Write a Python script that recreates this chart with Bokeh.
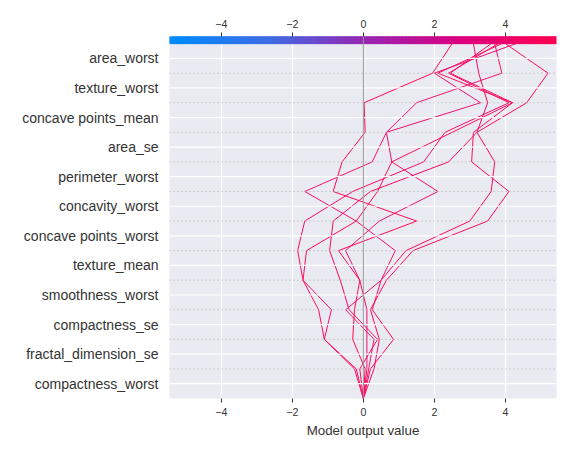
import numpy as np
from bokeh.plotting import figure
from bokeh.models import Span, FixedTicker, LinearAxis, Range1d
from bokeh.embed import file_html
from bokeh.resources import INLINE

features = ["compactness_worst", "fractal_dimension_se", "compactness_se", "smoothness_worst",
            "texture_mean", "concave points_worst", "concavity_worst", "perimeter_worst",
            "area_se", "concave points_mean", "texture_worst", "area_worst"]  # bottom to top
base_value = 0.0
# cumulative model output at boundaries y=-0.5 ... 11.5 (bottom to top)
line1 = [0, 0.2, 0.85, 0.25, 0.5, 1.2, 3.0, 3.6, 3.7, 3.2, 4.6, 5.2, 4.0]
line2 = [0, 0.3, 0.45, 0.2, 0.65, 1.4, 3.5, 4.1, 3.05, 3.1, 4.2, 2.45, 3.6]
line3 = [0, -0.2, -1.1, -0.9, -1.7, -1.85, -1.65, -0.3, 1.7, 2.3, 4.1, 2.4, 3.8]
line4 = [0, -0.25, -1.1, -1.26, -1.7, -1.6, -0.2, 0.4, 0.8, 2.5, 4.2, 2.1, 3.9]
line5 = [0, 0.1, 0.1, 0.1, -0.1, -0.5, 0.45, 2.1, 0.8, 0.65, 3.3, 2.0, 4.3]
line6 = [0, -0.1, 0.4, -0.4, -0.65, -0.95, -0.85, 0.2, 2.4, 3.2, 3.5, 3.25, 3.1]
line7 = [0, 0.05, -0.3, -0.25, -0.1, -0.7, 1.5, -0.85, -0.6, 0.05, 0.02, 1.95, 2.5]
line8 = [0, 0.15, 0.3, -0.5, 0.5, 0.9, -0.2, -1.65, 0.25, 0.65, 1.5, 3.9, 3.7]
lines = [line1, line2, line3, line4, line5, line6, line7, line8]
x_ticks = [-4, -2, 0, 2, 4]

XMIN, XMAX = -5.46, 5.44
n = len(features)
bar_h = 0.24
p = figure(width=568, height=445, output_backend="svg", toolbar_location=None,
           x_range=Range1d(XMIN, XMAX), y_range=Range1d(-0.5, n - 0.5 + bar_h),
           min_border_left=169, min_border_right=12, min_border_top=36, min_border_bottom=47,
           x_axis_label="Model output value")
p.outline_line_color = None
p.background_fill_color = "#eaeaf2"
p.border_fill_color = "white"
p.ygrid.visible = False
p.xgrid.ticker = FixedTicker(ticks=x_ticks)
p.xgrid.grid_line_color = "white"
p.xgrid.grid_line_width = 1.2

for i in range(n):
    p.add_layout(Span(location=i, dimension="width", line_color="white", line_width=1.2))
for i in range(n - 1):
    p.add_layout(Span(location=i + 0.5, dimension="width", line_color="#aaaaaa",
                      line_width=1, line_dash="1 3"))
p.add_layout(Span(location=base_value, dimension="height", line_color="#999999", line_width=1))

# colorbar strip
stops = [(0.0, (0, 139, 251)), (0.25, (60, 110, 230)), (0.5, (150, 40, 180)), (0.75, (220, 0, 130)), (1.0, (255, 0, 82))]
def cmap(t):
    for (a, ca), (b, cb) in zip(stops[:-1], stops[1:]):
        if t <= b:
            f = (t - a) / (b - a)
            return "#%02x%02x%02x" % tuple(int(ca[k] + f * (cb[k] - ca[k])) for k in range(3))
    return "#ff0052"
N = 120
edges = np.linspace(XMIN, XMAX, N + 1)
cb_cols = [cmap(i / (N - 1)) for i in range(N)]
p.quad(left=edges[:-1], right=edges[1:] + 0.06, bottom=n - 0.5, top=n - 0.5 + bar_h,
       fill_color=cb_cols, line_color=cb_cols, line_width=1)

ys = [i - 0.5 for i in range(n + 1)]
cols = ["#ff0a5a", "#fb0a60", "#f50c6a", "#ff0d57", "#f00f70", "#fa0860", "#ff0a55", "#f5136c"]
for l, c in zip(lines, cols):
    p.line(l, ys, line_color=c, line_width=1)

p.yaxis.ticker = FixedTicker(ticks=list(range(n)))
p.yaxis.major_label_overrides = {i: f for i, f in enumerate(features)}
p.yaxis.major_label_text_font_size = "10.5pt"
p.yaxis.major_label_text_color = "#333333"
p.yaxis.axis_line_color = None
p.yaxis.major_tick_line_color = None
p.yaxis.minor_tick_line_color = None

top = LinearAxis(ticker=FixedTicker(ticks=x_ticks))
p.add_layout(top, "above")
bottom = p.below[0]
for ax in [bottom, top]:
    ax.ticker = FixedTicker(ticks=x_ticks)
    ax.major_label_overrides = {t: ("\u2212%d" % -t if t < 0 else str(t)) for t in x_ticks}
    ax.major_label_text_font_size = "8pt"
    ax.major_label_text_color = "#333333"
    ax.axis_line_color = None
    ax.major_tick_line_color = "#333333"
    ax.major_tick_out = 4
    ax.major_tick_in = 0
    ax.minor_tick_line_color = None
bottom.axis_label_text_font_size = "10pt"
bottom.axis_label_text_font_style = "normal"
bottom.axis_label_text_color = "#333333"
bottom.axis_label_standoff = 4

open("out.html", "w").write(file_html(p, INLINE))
